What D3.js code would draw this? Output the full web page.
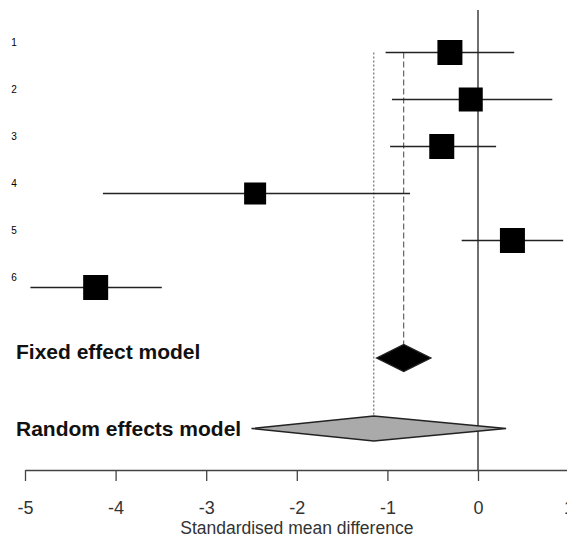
<!DOCTYPE html>
<html>
<head>
<meta charset="utf-8">
<script src="https://cdn.jsdelivr.net/npm/d3@7"></script>
<style>
  html, body { margin: 0; padding: 0; background: #fff; }
  svg { display: block; }
</style>
</head>
<body>
<script>
// Study-level effects (standardised mean difference with 95% CI)
const studies   = ["1", "2", "3", "4", "5", "6"];
const estimates = [-0.31, -0.08, -0.40, -2.46, 0.38, -4.22];
const lowerCI   = [-1.02, -0.95, -0.97, -4.14, -0.18, -4.94];
const upperCI   = [0.40, 0.82, 0.20, -0.75, 0.94, -3.49];
const boxSizes  = [25, 24, 25, 22, 25, 25];

// Pooled estimates
const pooledLabels = ["Fixed effect model", "Random effects model"];
const pooledEst    = [-0.82, -1.15];
const pooledLower  = [-1.12, -2.50];
const pooledUpper  = [-0.52, 0.31];
const pooledRows   = [7.5, 9];
const pooledFill   = ["#000", "#aaa"];

const xTicks = [-5, -4, -3, -2, -1, 0, 1];

const W = 567, H = 541;
const svg = d3.select("body").append("svg").attr("width", W).attr("height", H);

const x = d3.scaleLinear().domain([-5, 1]).range([25, 568.6]);
const y = d3.scaleLinear().domain([1, 9]).range([52.5, 428.5]);
const axisY = 470;
const font = "'Liberation Sans', Arial, sans-serif";

// Line of no effect
svg.append("line")
  .attr("x1", x(0)).attr("x2", x(0))
  .attr("y1", 10).attr("y2", axisY)
  .attr("stroke", "#222").attr("stroke-width", 1.3);

// Reference lines at the pooled estimates
svg.append("line")
  .attr("x1", x(pooledEst[0])).attr("x2", x(pooledEst[0]))
  .attr("y1", y(1)).attr("y2", y(pooledRows[0]) - 13)
  .attr("stroke", "#444").attr("stroke-width", 1)
  .attr("stroke-dasharray", "6,3");
svg.append("line")
  .attr("x1", x(pooledEst[1])).attr("x2", x(pooledEst[1]))
  .attr("y1", y(1)).attr("y2", y(pooledRows[1]) - 12)
  .attr("stroke", "#555").attr("stroke-width", 1)
  .attr("stroke-dasharray", "2,2");

// Study rows
const rows = studies.map((s, i) => ({
  label: s, est: estimates[i], lo: lowerCI[i], hi: upperCI[i], size: boxSizes[i], row: i + 1
}));

const g = svg.append("g");
g.selectAll("line.ci").data(rows).join("line")
  .attr("class", "ci")
  .attr("x1", d => x(d.lo)).attr("x2", d => x(d.hi))
  .attr("y1", d => y(d.row)).attr("y2", d => y(d.row))
  .attr("stroke", "#222").attr("stroke-width", 1.5);

g.selectAll("rect.box").data(rows).join("rect")
  .attr("class", "box")
  .attr("x", d => x(d.est) - d.size / 2)
  .attr("y", d => y(d.row) - d.size / 2)
  .attr("width", d => d.size).attr("height", d => d.size)
  .attr("fill", "#000");

g.selectAll("text.lab").data(rows).join("text")
  .attr("class", "lab")
  .attr("x", 14).attr("y", d => y(d.row) - 7)
  .attr("text-anchor", "middle")
  .attr("font-family", font).attr("font-size", 10)
  .attr("fill", "#000")
  .text(d => d.label);

// Pooled diamonds
const pooled = pooledLabels.map((l, i) => ({
  label: l, est: pooledEst[i], lo: pooledLower[i], hi: pooledUpper[i], row: pooledRows[i], fill: pooledFill[i]
}));
const halfH = [13.5, 12.5];

svg.selectAll("path.diamond").data(pooled).join("path")
  .attr("class", "diamond")
  .attr("d", (d, i) => {
    const cy = y(d.row), h = halfH[i];
    return `M${x(d.lo)},${cy}L${x(d.est)},${cy - h}L${x(d.hi)},${cy}L${x(d.est)},${cy + h}Z`;
  })
  .attr("fill", d => d.fill)
  .attr("stroke", "#222").attr("stroke-width", 1.3);

svg.selectAll("text.pooled").data(pooled).join("text")
  .attr("class", "pooled")
  .attr("x", 16).attr("y", (d, i) => y(d.row) + [1, 7.5][i])
  .attr("font-family", font).attr("font-size", 21).attr("font-weight", "bold")
  .attr("fill", "#111")
  .text(d => d.label);

// X axis
const axis = d3.axisBottom(x).tickValues(xTicks).tickSize(11).tickSizeOuter(0).tickFormat(d3.format("d"));
const ax = svg.append("g").attr("transform", `translate(0,${axisY})`).call(axis);
ax.select(".domain").attr("stroke", "#444").attr("stroke-width", 1.5);
ax.selectAll(".tick line").attr("stroke", "#444").attr("stroke-width", 1.3);
ax.selectAll(".tick text")
  .attr("font-family", font).attr("font-size", 18)
  .attr("fill", "#333").attr("dy", 0).attr("y", 44)
  .text(d => d < 0 ? "-" + Math.abs(d) : d);

svg.append("text")
  .attr("x", (x(-5) + x(1)) / 2).attr("y", 534)
  .attr("text-anchor", "middle")
  .attr("font-family", font).attr("font-size", 17.5)
  .attr("fill", "#333")
  .text("Standardised mean difference");
</script>
</body>
</html>
